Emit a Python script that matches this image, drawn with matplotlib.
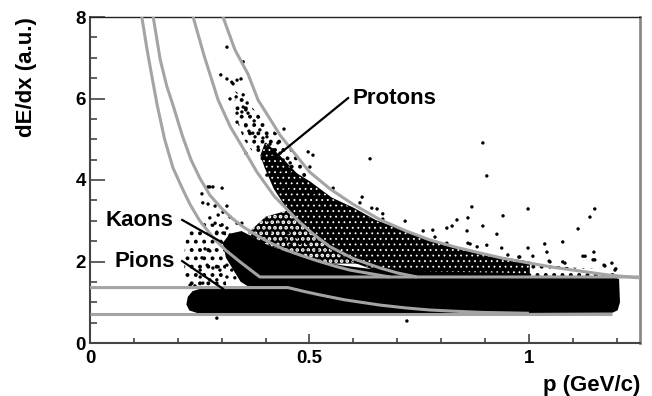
import matplotlib
matplotlib.use("Agg")
import matplotlib.pyplot as plt
from matplotlib.patches import Polygon
from matplotlib.ticker import MultipleLocator, FixedLocator, FixedFormatter

plt.rcParams['font.family'] = ['Liberation Sans', 'DejaVu Sans']
plt.rcParams['font.weight'] = 'bold'

# ---------------- band boundaries (p [GeV/c], dE/dx [a.u.]) ----------------
pion_low_p = [0.0, 1.19]
pion_low_y = [0.72, 0.72]
pion_up_p = [0.0, 0.451, 0.49, 0.524, 0.58, 0.661, 0.72, 0.774, 0.83, 0.895, 1.0]
pion_up_y = [1.36, 1.36, 1.26, 1.18, 1.06, 0.93, 0.86, 0.81, 0.78, 0.75, 0.73]

kaon_low_p = [0.118, 0.130, 0.140, 0.153, 0.170, 0.189, 0.210, 0.228, 0.250, 0.285, 0.310,
              0.342, 0.365, 0.387, 1.26]
kaon_low_y = [8.0, 7.2, 6.6, 5.84, 5.0, 4.3, 3.8, 3.4, 3.0, 2.53, 2.27, 1.99, 1.80, 1.62, 1.62]
kaon_up_p = [0.144, 0.160, 0.175, 0.189, 0.210, 0.230, 0.250, 0.273, 0.300, 0.325, 0.349,
             0.380, 0.410, 0.440, 0.478, 0.520, 0.560, 0.592, 0.640, 0.683]
kaon_up_y = [8.0, 6.95, 6.3, 5.84, 5.1, 4.5, 4.05, 3.63, 3.3, 3.05, 2.85, 2.64, 2.46, 2.31,
             2.16, 2.01, 1.88, 1.79, 1.70, 1.62]

prot_low_p = [0.235, 0.260, 0.292, 0.320, 0.345, 0.380, 0.420, 0.472, 0.510, 0.547, 0.600,
              0.661, 0.700, 0.745]
prot_low_y = [8.0, 7.05, 5.96, 5.3, 4.85, 4.2, 3.6, 3.02, 2.66, 2.36, 2.07, 1.84, 1.72, 1.62]
prot_up_p = [0.303, 0.330, 0.360, 0.383, 0.410, 0.433, 0.470, 0.500, 0.547, 0.600, 0.660,
             0.720, 0.774, 0.830, 0.888, 0.940, 1.002, 1.060, 1.120, 1.180, 1.260]
prot_up_y = [8.0, 7.2, 6.6, 5.96, 5.5, 5.10, 4.6, 4.2, 3.78, 3.4, 3.03, 2.75, 2.53, 2.36,
             2.21, 2.08, 1.96, 1.85, 1.76, 1.67, 1.59]

# ---------------- track density regions ----------------
# saturated regions (solid black)
pion_blob = [(0.245, 0.76), (0.228, 0.82), (0.222, 0.95), (0.225, 1.12), (0.235, 1.25),
             (0.25, 1.30), (0.30, 1.31), (0.36, 1.36), (0.38, 1.50), (0.40, 1.62),
             (1.19, 1.62), (1.203, 1.55), (1.205, 1.00), (1.20, 0.82), (1.19, 0.77),
             (0.90, 0.76), (0.50, 0.76)]
kaon_core = [(0.305, 2.45), (0.32, 2.66), (0.345, 2.72), (0.37, 2.58), (0.40, 2.40),
             (0.44, 2.24), (0.48, 2.10), (0.52, 1.98), (0.58, 1.87), (0.64, 1.79), (0.72, 1.75),
             (0.82, 1.72), (0.95, 1.70), (1.0, 1.62), (0.40, 1.62), (0.36, 1.42), (0.345, 1.52),
             (0.33, 1.78), (0.312, 2.1)]
# dense band (black with small gaps)
prot_band = [(0.40, 4.9), (0.43, 4.6), (0.47, 4.15), (0.50, 3.95), (0.55, 3.55), (0.60, 3.3),
             (0.65, 3.0), (0.70, 2.8), (0.77, 2.5), (0.85, 2.3), (0.93, 2.1), (1.0, 1.98),
             (1.0, 1.62), (0.70, 1.62), (0.65, 1.8), (0.60, 2.0), (0.55, 2.3), (0.50, 2.75),
             (0.45, 3.3), (0.42, 3.8), (0.40, 4.3), (0.39, 4.6)]
# medium density (black with larger gaps)
bc_gap = [(0.36, 2.7), (0.40, 3.1), (0.45, 3.25), (0.50, 2.8), (0.55, 2.35), (0.62, 1.95),
          (0.55, 1.95), (0.48, 2.1), (0.42, 2.35), (0.38, 2.5)]
# sparse grain
kaon_halo = [(0.22, 2.7), (0.26, 2.95), (0.31, 2.9), (0.31, 1.33), (0.23, 1.33),
             (0.215, 1.6), (0.215, 2.2)]
prot_halo = [(0.33, 6.2), (0.36, 5.9), (0.40, 5.4), (0.44, 5.0), (0.48, 4.5), (0.50, 4.0),
             (0.44, 3.9), (0.39, 4.4), (0.35, 5.0), (0.33, 5.6)]
high_fringe = [(0.90, 1.62), (0.90, 2.0), (1.0, 1.95), (1.1, 1.85), (1.2, 1.8), (1.2, 1.62)]

# ---------------- isolated tracks ----------------
sparse_p = [0.312, 0.349, 0.298, 0.312, 0.323, 0.326, 0.335, 0.344, 0.319, 0.333, 0.349, 0.358,
            0.349, 0.355, 0.360, 0.346, 0.335, 0.383, 0.374, 0.335, 0.355, 0.362, 0.371, 0.387,
            0.442, 0.376, 0.394, 0.403, 0.383, 0.410, 0.417, 0.428, 0.433, 0.355, 0.394, 0.403,
            0.415, 0.426, 0.440, 0.449, 0.456, 0.497, 0.508, 0.501, 0.403, 0.433, 0.462, 0.478,
            0.426, 0.440, 0.456, 0.485, 0.508,
            0.255, 0.269, 0.280, 0.301,
            0.895, 0.638, 0.904, 0.620, 0.554, 0.615, 0.642, 0.654, 0.667, 0.667, 0.718, 0.870,
            0.998, 1.150, 1.139, 0.941, 0.895, 0.836, 0.825, 0.813, 0.859, 0.927, 1.112, 1.077,
            1.036, 0.998, 1.041, 1.148, 1.128, 1.146, 1.189, 1.173, 1.196, 1.077, 1.048, 0.979,
            0.952, 0.904, 0.861, 0.759, 0.781, 0.786, 0.861, 0.938, 1.009, 0.977, 1.123, 1.150,
            1.171, 1.198, 0.866, 0.882, 0.813, 1.082, 1.046, 0.722, 0.289,
            0.273, 0.257, 0.269, 0.285, 0.312, 0.303, 0.292, 0.319, 0.273, 0.285, 0.301, 0.312,
            0.335, 0.346, 0.289, 0.303, 0.319, 0.262, 0.273, 0.255, 0.267, 0.280, 0.292, 0.296,
            0.312, 0.323, 0.335, 0.346, 0.353, 0.364, 0.251, 0.273, 0.257, 0.289, 0.312, 0.330,
            0.369, 0.251, 0.239, 0.228,
            0.403, 0.428, 0.451, 0.410, 0.472, 0.421, 0.456, 0.478, 0.497, 0.517, 0.524, 0.433,
            0.494, 0.444, 0.456]
sparse_y = [7.26, 6.90, 6.58, 6.48, 6.40, 6.36, 6.45, 6.48, 5.99, 6.04, 6.09, 5.89,
            5.79, 5.72, 5.64, 5.67, 5.64, 5.55, 5.45, 5.42, 5.33, 5.20, 5.15, 5.23,
            5.25, 5.06, 5.03, 5.06, 4.81, 4.88, 4.74, 4.91, 4.66, 4.66, 4.61, 4.49,
            4.56, 4.42, 4.49, 4.32, 4.42, 4.69, 4.61, 4.32, 4.12, 4.25, 4.17, 4.00,
            4.00, 3.83, 3.75, 3.83, 3.68,
            3.66, 3.83, 3.83, 3.80,
            4.91, 4.52, 4.10, 3.58, 3.80, 3.44, 3.31, 3.29, 3.17, 3.04, 2.99, 3.34,
            3.29, 3.29, 3.09, 3.12, 2.87, 3.02, 2.87, 2.82, 2.75, 2.67, 2.80, 2.48,
            2.43, 2.33, 2.23, 2.23, 2.13, 2.04, 1.96, 1.89, 1.79, 1.99, 1.99, 2.11,
            2.16, 2.40, 2.45, 2.75, 2.77, 2.60, 3.07, 2.33, 2.13, 2.11, 2.13, 2.04,
            1.91, 1.82, 2.43, 2.36, 2.45, 1.96, 2.01, 0.54, 0.61,
            3.83, 3.44, 3.41, 3.36, 3.36, 3.21, 3.14, 3.09, 3.07, 2.94, 2.90, 2.82,
            2.94, 2.94, 2.72, 2.70, 2.65, 2.31, 2.26, 2.09, 1.91, 1.84, 1.87, 1.79,
            1.91, 1.79, 1.84, 1.74, 1.87, 1.72, 1.62, 1.55, 1.47, 1.55, 1.62, 1.60,
            1.60, 1.79, 1.40, 1.42,
            3.02, 2.90, 2.70, 2.70, 2.60, 2.45, 2.40, 2.45, 2.21, 2.28, 2.09, 2.28,
            2.45, 2.53, 2.77]

labels = ["Protons", "Kaons", "Pions"]
label_xy = [(0.598, 6.01), (0.035, 3.01), (0.056, 2.01)]
arrow_tail = [(0.588, 6.01), (0.210, 3.02), (0.210, 2.01)]
arrow_head = [(0.426, 4.59), (0.312, 2.40), (0.303, 1.33)]

xticks = [0, 0.5, 1]
xticklabels = ["0", "0.5", "1"]
yticks = [0, 2, 4, 6, 8]


def grain(ax, verts, hatch, color, hlw, z, fill=None):
    with plt.rc_context({'hatch.linewidth': hlw}):
        patch = Polygon(verts, closed=True, facecolor=fill or 'none', edgecolor=color,
                        hatch=hatch, lw=0, zorder=z)
    if hasattr(patch, 'set_hatch_linewidth'):
        patch.set_hatch_linewidth(hlw)
    ax.add_patch(patch)


# ---------------- figure ----------------
fig = plt.figure(figsize=(6.52, 3.96), dpi=100)
ax = fig.add_axes([90 / 652, 53 / 396, 550 / 652, 326 / 396])
ax.set_xlim(0, 1.253)
ax.set_ylim(0, 8)

for reg in (kaon_halo, prot_halo, high_fringe):
    grain(ax, reg, '..', 'black', 1.6, 1)
# medium: black with larger white gaps
ax.add_patch(Polygon(bc_gap, closed=True, facecolor='black', edgecolor='none', lw=0, zorder=1.1))
grain(ax, bc_gap, '...', 'white', 1.8, 1.2)
# dense band: black with fine white gaps
ax.add_patch(Polygon(prot_band, closed=True, facecolor='black', edgecolor='black', lw=1.2, zorder=2))
grain(ax, prot_band, '...', 'white', 0.6, 2.1)
for blob in (pion_blob, kaon_core):
    ax.add_patch(Polygon(blob, closed=True, facecolor='black', edgecolor='black', lw=1.5, zorder=2.2))
ax.scatter(sparse_p, sparse_y, s=6, c='black', edgecolors='none', zorder=3)

gray = '#a4a4a4'
for px, py in [(pion_low_p, pion_low_y), (pion_up_p, pion_up_y), (kaon_low_p, kaon_low_y),
               (kaon_up_p, kaon_up_y), (prot_low_p, prot_low_y), (prot_up_p, prot_up_y)]:
    ax.plot(px, py, color=gray, lw=2.2, zorder=4, solid_capstyle='butt', solid_joinstyle='round')

for txt, xy, t0, t1 in zip(labels, label_xy, arrow_tail, arrow_head):
    ax.text(xy[0], xy[1], txt, fontsize=16, fontweight='bold', va='center', ha='left', zorder=6)
    ax.plot([t0[0], t1[0]], [t0[1], t1[1]], color='black', lw=1.6, zorder=5)

ax.xaxis.set_major_locator(FixedLocator(xticks))
ax.xaxis.set_major_formatter(FixedFormatter(xticklabels))
ax.xaxis.set_minor_locator(MultipleLocator(0.1))
ax.yaxis.set_major_locator(FixedLocator(yticks))
ax.yaxis.set_minor_locator(MultipleLocator(0.5))
ax.tick_params(axis='both', which='both', direction='in', colors='#444444', width=1.2,
               labelcolor='black', labelsize=13.5, top=False, right=False)
ax.tick_params(axis='y', which='major', length=11, pad=3)
ax.tick_params(axis='y', which='minor', length=5)
ax.tick_params(axis='x', which='major', length=6.5, pad=5)
ax.tick_params(axis='x', which='minor', length=3.3)
for lab in ax.get_xticklabels() + ax.get_yticklabels():
    lab.set_fontweight('bold')

for side in ('left', 'bottom'):
    ax.spines[side].set_color('#444444')
    ax.spines[side].set_linewidth(1.5)
ax.spines['top'].set_color('#222222')
ax.spines['top'].set_linewidth(1.0)
ax.spines['right'].set_color('#8a8a8a')
ax.spines['right'].set_linewidth(2.0)

fig.text(27 / 652, 1 - 17 / 396, "dE/dx (a.u.)", rotation=90, ha='center', va='top',
         fontsize=16, fontweight='bold')
fig.text(640 / 652, 1 - 385 / 396, "p (GeV/c)", ha='right', va='center',
         fontsize=16, fontweight='bold')

fig.savefig("out.png", dpi=100)
